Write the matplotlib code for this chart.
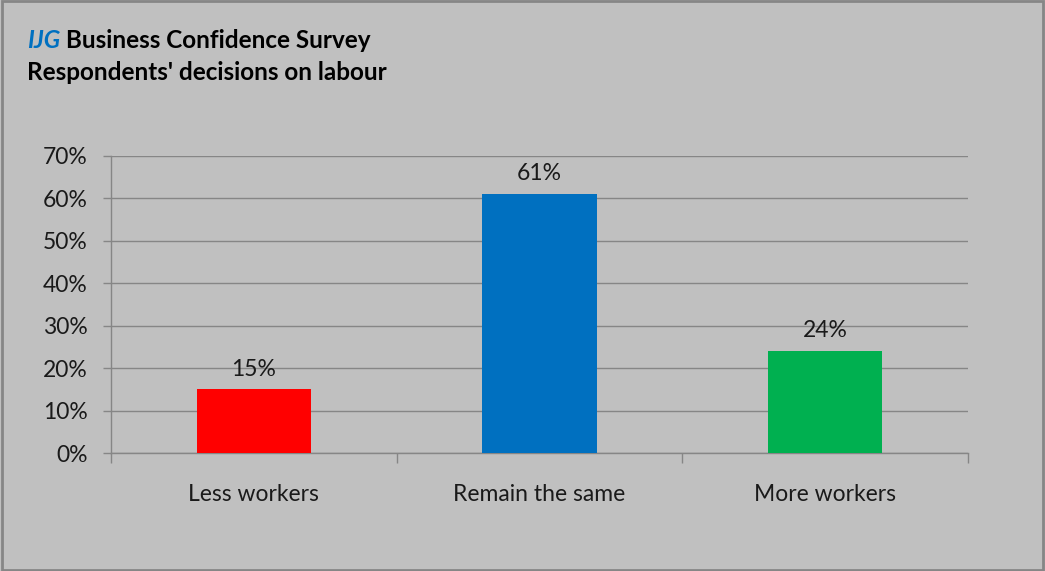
import matplotlib.pyplot as plt
from matplotlib.patches import Rectangle
from matplotlib.ticker import FuncFormatter, FixedLocator

categories = ['Less workers', 'Remain the same', 'More workers']
shares = [15, 61, 24]
bar_colors = ['#FF0000', '#0070C0', '#00B050']
y_ticks = [0, 10, 20, 30, 40, 50, 60, 70]

plt.rcParams['font.family'] = ['Lato', 'DejaVu Sans']
bg = '#C0C0C0'
line_col = '#868686'
txt_col = '#1a1a1a'
fs = 16.5
title_fs = 17.5

fig = plt.figure(figsize=(10.45, 5.71), dpi=100, facecolor=bg)
ax = fig.add_axes([111 / 1045, 1 - 453 / 571, (968 - 111) / 1045, (453 - 156) / 571])
ax.set_facecolor(bg)

x = range(len(categories))
bars = ax.bar(x, shares, width=0.4, color=bar_colors, zorder=3)
for b, v in zip(bars, shares):
    ax.annotate('%d%%' % v, (b.get_x() + b.get_width() / 2, v),
                xytext=(0, 7), textcoords='offset points',
                ha='center', va='bottom', fontsize=fs, color=txt_col)

ax.set_xlim(-0.5, len(categories) - 0.5)
ax.set_ylim(0, 70)
ax.set_yticks(y_ticks)
ax.yaxis.set_major_formatter(FuncFormatter(lambda v, p: '%d%%' % v))
ax.grid(axis='y', color=line_col, linewidth=1, zorder=0)
ax.set_xticks(list(x))
ax.set_xticklabels(categories)
ax.xaxis.set_minor_locator(FixedLocator([-0.5, 0.5, 1.5, 2.5]))

ax.tick_params(axis='y', length=6, width=1, color=line_col, pad=11, labelsize=fs, labelcolor=txt_col)
ax.tick_params(axis='x', which='major', length=0, pad=22, labelsize=fs, labelcolor=txt_col)
ax.tick_params(axis='x', which='minor', length=7, width=1, color=line_col)

for s in ['top', 'right']:
    ax.spines[s].set_visible(False)
for s in ['left', 'bottom']:
    ax.spines[s].set_color(line_col)
    ax.spines[s].set_linewidth(1)

# title: blue italic IJG followed by black text
t1 = fig.text(27 / 1045, 1 - 48 / 571, 'IJG', color='#0070C0', fontsize=title_fs,
              fontweight='bold', fontstyle='italic', va='baseline')
fig.canvas.draw()
ax.annotate(' Business Confidence Survey', xy=(1, 0), xycoords=t1, va='bottom',
            fontsize=title_fs, fontweight='bold', color='black', annotation_clip=False)
fig.text(27 / 1045, 1 - 80 / 571, "Respondents' decisions on labour", fontsize=title_fs,
         fontweight='bold', color='black', va='baseline')

fig.patches.append(Rectangle((0.002, 0.002), 0.996, 0.996, transform=fig.transFigure,
                             fill=False, edgecolor=line_col, linewidth=2))

plt.savefig('out.png', dpi=100, facecolor=bg)
